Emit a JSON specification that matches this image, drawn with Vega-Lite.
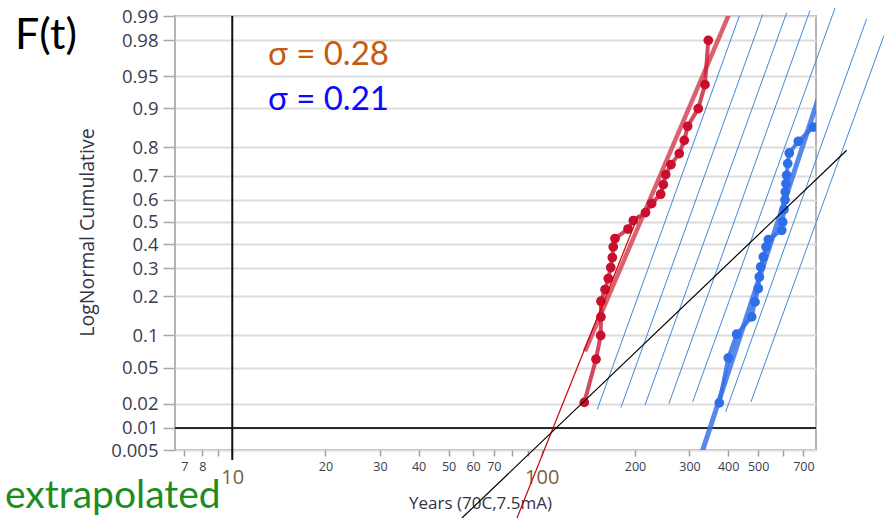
{
  "$schema": "https://vega.github.io/schema/vega-lite/v6.json",
  "width": 641,
  "height": 434,
  "autosize": {"type": "none"},
  "padding": {"left": 175, "top": 16, "right": 68, "bottom": 68},
  "background": "white",
  "config": {
    "view": {"stroke": "#b4b4b4", "strokeWidth": 2},
    "font": "Open Sans"
  },
  "datasets": {
    "red": [
      {"t": 137.2, "z": -2.038}, {"t": 149.7, "z": -1.55}, {"t": 155.0, "z": -1.282},
      {"t": 155.3, "z": -1.072}, {"t": 155.3, "z": -0.895}, {"t": 160.1, "z": -0.763},
      {"t": 164.0, "z": -0.639}, {"t": 167.0, "z": -0.515}, {"t": 169.0, "z": -0.402},
      {"t": 170.2, "z": -0.282}, {"t": 172.4, "z": -0.187}, {"t": 189.9, "z": -0.08},
      {"t": 197.6, "z": 0.016}, {"t": 216.3, "z": 0.106}, {"t": 226.5, "z": 0.208},
      {"t": 242.2, "z": 0.313}, {"t": 247.0, "z": 0.422}, {"t": 251.4, "z": 0.535},
      {"t": 261.5, "z": 0.648}, {"t": 278.1, "z": 0.772}, {"t": 288.7, "z": 0.922},
      {"t": 296.0, "z": 1.08}, {"t": 320.3, "z": 1.28}, {"t": 336.7, "z": 1.551},
      {"t": 345.1, "z": 2.051}
    ],
    "blue": [
      {"t": 374.5, "z": -2.043}, {"t": 400.5, "z": -1.535}, {"t": 426.3, "z": -1.268},
      {"t": 476.7, "z": -1.072}, {"t": 488.6, "z": -0.903}, {"t": 500.7, "z": -0.752},
      {"t": 504.4, "z": -0.621}, {"t": 509.7, "z": -0.508}, {"t": 519.7, "z": -0.395},
      {"t": 530.2, "z": -0.282}, {"t": 539.4, "z": -0.199}, {"t": 595.9, "z": -0.094},
      {"t": 600.3, "z": 0.0}, {"t": 606.2, "z": 0.14}, {"t": 610.7, "z": 0.25},
      {"t": 612.0, "z": 0.34}, {"t": 615.2, "z": 0.433}, {"t": 618.4, "z": 0.527},
      {"t": 623.1, "z": 0.659}, {"t": 630.5, "z": 0.779}, {"t": 674.4, "z": 0.911},
      {"t": 754.1, "z": 1.072}
    ],
    "hatch": [
      {"g": "h1", "t": 434.6, "z": 2.3251}, {"g": "h1", "t": 151.1, "z": -2.1174},
      {"g": "h2", "t": 517.4, "z": 2.3442}, {"g": "h2", "t": 180.3, "z": -2.0948},
      {"g": "h3", "t": 618.4, "z": 2.3634}, {"g": "h3", "t": 215.5, "z": -2.0688},
      {"g": "h4", "t": 735.5, "z": 2.3894}, {"g": "h4", "t": 257.6, "z": -2.0497},
      {"g": "h5", "t": 885.9, "z": 2.4153}, {"g": "h5", "t": 307.3, "z": -2.0316},
      {"g": "h6", "t": 1121.3, "z": 2.2957}, {"g": "h6", "t": 392.8, "z": -2.1445},
      {"g": "h7", "t": 1275.6, "z": 2.1072}, {"g": "h7", "t": 474.2, "z": -2.0316}
    ],
    "redfit": [{"t": 137.9, "z": -1.463}, {"t": 432.5, "z": 2.6}],
    "bluefit": [{"t": 315.5, "z": -2.8}, {"t": 800.6, "z": 1.5}],
    "redthin": [{"t": 83.17, "z": -3.344}, {"t": 205.0, "z": 0.0756}],
    "black": [{"t": 55.23, "z": -3.344}, {"t": 966.3, "z": 0.8093}],
    "vref": [{"t": 10, "z": 2.3263}, {"t": 10, "z": -2.69}],
    "href": [{"t": 6.531, "z": -2.3263}, {"t": 769.1, "z": -2.3263}],
    "ft": [{"label": "F(t)", "t": 1.986, "z": 1.957}],
    "extrap": [{"label": "extrapolated", "t": 1.844, "z": -3.231}],
    "s1": [{"label": "σ = 0.28", "t": 13.04, "z": 1.769}],
    "s2": [{"label": "σ = 0.21", "t": 13.04, "z": 1.261}]
  },
  "encoding": {
    "x": {
      "field": "t", "type": "quantitative",
      "scale": {"type": "log", "domain": [6.531, 769.1], "nice": false},
      "axis": {
        "values": [7, 8, 9, 10, 20, 30, 40, 50, 60, 70, 80, 90, 100, 200, 300, 400, 500, 600, 700],
        "labelExpr": "indexof([9, 80, 90, 600], datum.value) >= 0 ? '' : format(datum.value, 'd')",
        "labelFontSize": {"condition": {"test": "datum.value == 10 || datum.value == 100", "value": 20}, "value": 12.5},
        "labelColor": {"condition": {"test": "datum.value == 10 || datum.value == 100", "value": "#7d6040"}, "value": "#3b3b50"},
        "labelPadding": {"condition": {"test": "datum.value == 10 || datum.value == 100", "value": 11}, "value": 4},
        "labelOverlap": false,
        "labelFlush": false,
        "tickSize": 6,
        "tickColor": "#a0a0a0",
        "tickWidth": 1.5,
        "domain": false,
        "grid": false,
        "title": "Years (70C,7.5mA)",
        "titleX": 305,
        "titleY": 53,
        "titleAlign": "center",
        "titleBaseline": "middle",
        "titleFontSize": 17,
        "titleFontWeight": "normal",
        "titleColor": "#333344"
      }
    },
    "y": {
      "field": "z", "type": "quantitative",
      "scale": {"domain": [-2.5758, 2.3263], "nice": false, "zero": false},
      "axis": {
        "values": [2.3263, 2.0537, 1.6449, 1.2816, 0.8416, 0.5244, 0.2533, 0, -0.2533, -0.5244, -0.8416, -1.2816, -1.6449, -2.0537, -2.3263, -2.5758],
        "labelExpr": "format(cumulativeNormal(datum.value), '.3~g')",
        "labelFontSize": 18.5,
        "labelColor": "#3b3b50",
        "labelPadding": 5,
        "labelOverlap": false,
        "labelFlush": false,
        "tickSize": 12,
        "tickColor": "#a8a8a8",
        "tickWidth": 1.5,
        "domain": false,
        "grid": true,
        "gridColor": "#dcdcdc",
        "gridWidth": 2,
        "title": "LogNormal Cumulative",
        "titleX": -88,
        "titleY": 216,
        "titleAngle": -90,
        "titleAlign": "center",
        "titleBaseline": "middle",
        "titleFontSize": 19.5,
        "titleFontWeight": "normal",
        "titleColor": "#333344"
      }
    }
  },
  "layer": [
    {"data": {"name": "hatch"}, "mark": {"type": "line", "clip": false, "color": "#3f8ad6", "strokeWidth": 1}, "encoding": {"detail": {"field": "g"}}},
    {"data": {"name": "href"}, "mark": {"type": "line", "clip": false, "color": "#2a2a2a", "strokeWidth": 2}, "encoding": {}},
    {"data": {"name": "vref"}, "mark": {"type": "line", "clip": false, "color": "#111111", "strokeWidth": 2}, "encoding": {}},
    {"data": {"name": "redfit"}, "mark": {"type": "line", "clip": true, "color": "#d23a4c", "strokeWidth": 4.5, "opacity": 0.8}, "encoding": {}},
    {"data": {"name": "bluefit"}, "mark": {"type": "line", "clip": true, "color": "#3a74e6", "strokeWidth": 5, "opacity": 0.85}, "encoding": {}},
    {"data": {"name": "red"}, "mark": {"type": "line", "clip": true, "color": "#cc1a36", "strokeWidth": 4, "opacity": 0.8, "point": {"filled": true, "size": 95, "color": "#c8102e", "opacity": 1}}, "encoding": {"order": {"field": "z", "type": "quantitative"}}},
    {"data": {"name": "blue"}, "mark": {"type": "line", "clip": true, "color": "#3470e8", "strokeWidth": 4, "opacity": 0.85, "point": {"filled": true, "size": 95, "color": "#2f6ee8", "opacity": 1}}, "encoding": {"order": {"field": "z", "type": "quantitative"}}},
    {"data": {"name": "redthin"}, "mark": {"type": "line", "clip": false, "color": "#cc0000", "strokeWidth": 1.2}, "encoding": {}},
    {"data": {"name": "black"}, "mark": {"type": "line", "clip": false, "color": "#000000", "strokeWidth": 1.2}, "encoding": {}},
    {"data": {"name": "ft"}, "mark": {"type": "text", "font": "Lato", "fontSize": 43, "align": "left", "baseline": "alphabetic", "color": "#000000"}, "encoding": {"text": {"field": "label"}}},
    {"data": {"name": "extrap"}, "mark": {"type": "text", "font": "Lato", "fontSize": 39, "align": "left", "baseline": "alphabetic", "color": "#1e8c1e"}, "encoding": {"text": {"field": "label"}}},
    {"data": {"name": "s1"}, "mark": {"type": "text", "font": "Lato", "fontSize": 33, "align": "left", "baseline": "alphabetic", "color": "#c55a11"}, "encoding": {"text": {"field": "label"}}},
    {"data": {"name": "s2"}, "mark": {"type": "text", "font": "Lato", "fontSize": 33, "align": "left", "baseline": "alphabetic", "color": "#0a0aff"}, "encoding": {"text": {"field": "label"}}}
  ]
}
